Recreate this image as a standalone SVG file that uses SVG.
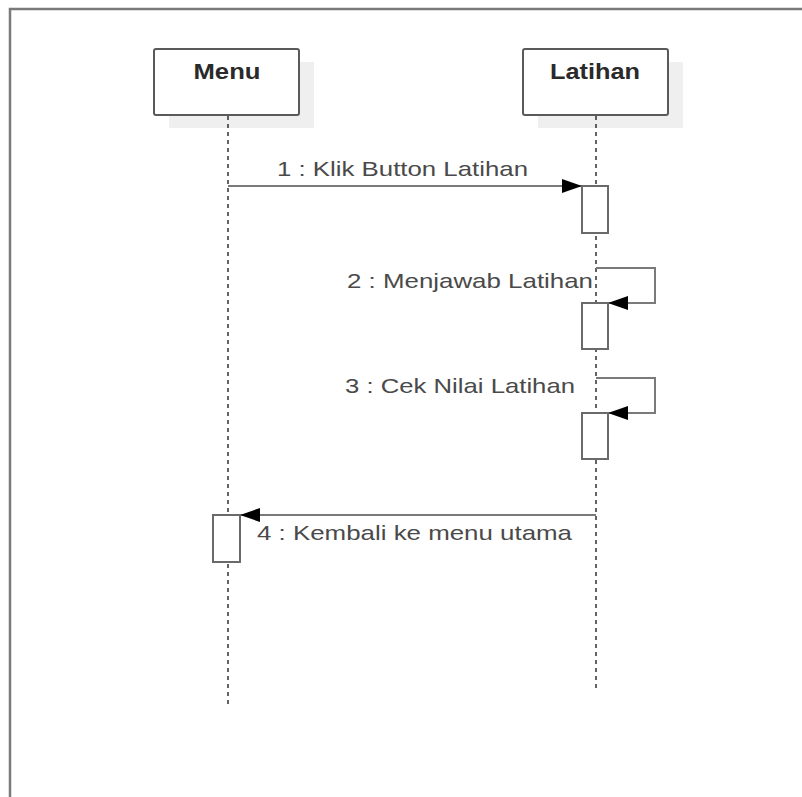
<svg xmlns="http://www.w3.org/2000/svg" width="802" height="797" viewBox="0 0 802 797">
<defs>
<style>
.frame{fill:none;stroke:#7a7a7a;stroke-width:2.5}
.box{fill:#fff;stroke:#5a5a5a;stroke-width:2}
.shadow{fill:#efefef;stroke:none}
.life{stroke:#222;stroke-width:1.4;stroke-dasharray:4,4;fill:none}
.msg{fill:none;stroke:#7a7a7a;stroke-width:2}
.act{fill:#fff;stroke:#6a6a6a;stroke-width:2}
.title{font-family:"Liberation Sans",Arial,sans-serif;font-weight:bold;font-size:22px;fill:#2a2a2a;text-anchor:middle}
.lbl{font-family:"Liberation Sans",Arial,sans-serif;font-size:21px;fill:#4a4a4a}
</style>
<marker id="ah" viewBox="0 0 20 14" refX="20" refY="7" markerWidth="20" markerHeight="14" markerUnits="userSpaceOnUse" orient="auto">
<path d="M0,0 L20,7 L0,14 Z" fill="#000"/>
</marker>
</defs>
<rect width="802" height="797" fill="#fff"/>
<path class="frame" d="M10,797 V9 H802"/>
<g id="menu">
<rect class="shadow" x="169" y="62" width="145" height="66"/>
<rect class="box" x="154" y="49" width="145" height="66" rx="2"/>
<text class="title" x="227" y="79" textLength="67" lengthAdjust="spacingAndGlyphs">Menu</text>
</g>
<g id="latihan">
<rect class="shadow" x="538" y="62" width="145" height="66"/>
<rect class="box" x="523" y="49" width="145" height="66" rx="2"/>
<text class="title" x="595" y="79" textLength="90" lengthAdjust="spacingAndGlyphs">Latihan</text>
</g>
<g id="lifelines">
<line class="life" x1="228" y1="116" x2="228" y2="708"/>
<line class="life" x1="596" y1="116" x2="596" y2="690"/>
</g>
<g id="connectors">
<path class="msg" d="M228,186 H582" marker-end="url(#ah)"/>
<path class="msg" d="M596,268 H655 V303 H608" marker-end="url(#ah)"/>
<path class="msg" d="M596,378 H655 V413 H608" marker-end="url(#ah)"/>
<path class="msg" d="M596,515 H240" marker-end="url(#ah)"/>
</g>
<g id="activations">
<rect class="act" x="582" y="186" width="26" height="47"/>
<rect class="act" x="582" y="303" width="26" height="46"/>
<rect class="act" x="582" y="413" width="26" height="46"/>
<rect class="act" x="213" y="515" width="27" height="47"/>
</g>
<g id="labels">
<text class="lbl" x="277" y="176" textLength="251" lengthAdjust="spacingAndGlyphs">1 : Klik Button Latihan</text>
<text class="lbl" x="347" y="288" textLength="246" lengthAdjust="spacingAndGlyphs">2 : Menjawab Latihan</text>
<text class="lbl" x="345" y="393" textLength="230" lengthAdjust="spacingAndGlyphs">3 : Cek Nilai Latihan</text>
<text class="lbl" x="257" y="540" textLength="315" lengthAdjust="spacingAndGlyphs">4 : Kembali ke menu utama</text>
</g>
</svg>
